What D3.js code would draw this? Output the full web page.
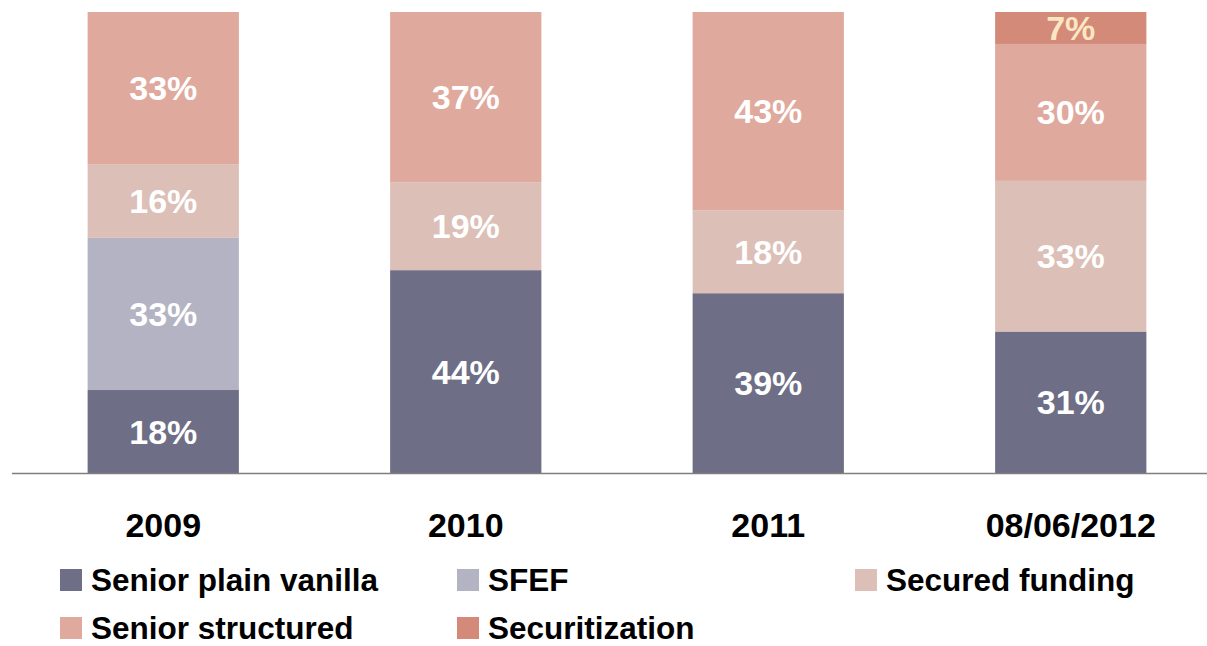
<!DOCTYPE html>
<html>
<head>
<meta charset="utf-8">
<script src="https://cdn.jsdelivr.net/npm/d3@7"></script>
<style>
  body { margin: 0; background: #fff; }
  svg { display: block; font-family: "Liberation Sans", Arial, sans-serif; }
</style>
</head>
<body>
<div id="chart"></div>
<script>
// categories and series (percent shares as printed on the chart)
const years = ["2009", "2010", "2011", "08/06/2012"];
const seniorPlainVanilla = [18, 44, 39, 31];
const sfef = [33, 0, 0, 0];
const securedFunding = [16, 19, 18, 33];
const seniorStructured = [33, 37, 43, 30];
const securitization = [0, 0, 0, 7];

const seriesNames = ["Senior plain vanilla", "SFEF", "Secured funding", "Senior structured", "Securitization"];
const seriesValues = [seniorPlainVanilla, sfef, securedFunding, seniorStructured, securitization];
const colors = ["#6e6e86", "#b3b3c3", "#dcbfb7", "#dfa99e", "#d38a78"];

const width = 1207, height = 646;
const margin = { top: 12, bottom: 173, left: 12 };

const rows = years.map((y, i) => {
  const r = { year: y };
  seriesNames.forEach((s, j) => r[s] = seriesValues[j][i]);
  return r;
});

// shares per bar, normalised to 100%
const stack = d3.stack().keys(seriesNames).offset(d3.stackOffsetExpand);
const layers = stack(rows);

const svg = d3.select("#chart").append("svg")
  .attr("width", width).attr("height", height);

const x = d3.scaleBand()
  .domain(years)
  .range([12, 1222])
  .paddingInner(0.5)
  .paddingOuter(0.25);

const y = d3.scaleLinear()
  .domain([0, 1])
  .range([height - margin.bottom, margin.top]);

const color = d3.scaleOrdinal().domain(seriesNames).range(colors);

const layer = svg.selectAll(".layer")
  .data(layers)
  .join("g")
  .attr("class", "layer")
  .attr("fill", d => color(d.key));

layer.selectAll("rect")
  .data(d => d.filter(p => p[1] - p[0] > 0))
  .join("rect")
  .attr("x", d => x(d.data.year))
  .attr("width", x.bandwidth())
  .attr("y", d => y(d[1]))
  .attr("height", d => y(d[0]) - y(d[1]));

layer.each(function(l) {
  d3.select(this).selectAll("text")
    .data(l.filter(p => p[1] - p[0] > 0))
    .join("text")
    .attr("x", d => x(d.data.year) + x.bandwidth() / 2)
    .attr("y", d => (y(d[0]) + y(d[1])) / 2 + 12)
    .attr("text-anchor", "middle")
    .attr("font-size", 34)
    .attr("font-weight", "bold")
    .attr("fill", l.key === "Securitization" ? "#fbe6c2" : "#ffffff")
    .text(d => d.data[l.key] + "%");
});

// baseline
svg.append("line")
  .attr("x1", 12).attr("x2", width)
  .attr("y1", y(0) + 0.5).attr("y2", y(0) + 0.5)
  .attr("stroke", "#7f7f7f")
  .attr("stroke-width", 1.5);

// category labels
svg.append("g")
  .selectAll("text")
  .data(years)
  .join("text")
  .attr("x", d => x(d) + x.bandwidth() / 2)
  .attr("y", 537)
  .attr("text-anchor", "middle")
  .attr("font-size", 34)
  .attr("font-weight", "bold")
  .attr("fill", "#000")
  .text(d => d);

// legend
const legendPos = [[60, 580], [457, 580], [855, 580], [60, 628], [457, 628]];
const legend = svg.append("g")
  .selectAll("g")
  .data(seriesNames)
  .join("g")
  .attr("transform", (d, i) => `translate(${legendPos[i][0]},${legendPos[i][1]})`);

legend.append("rect")
  .attr("x", 0).attr("y", -11)
  .attr("width", 22).attr("height", 22)
  .attr("fill", d => color(d));

legend.append("text")
  .attr("x", 31).attr("y", 10.5)
  .attr("font-size", 31.5)
  .attr("font-weight", "bold")
  .attr("fill", "#000")
  .text(d => d);
</script>
</body>
</html>
